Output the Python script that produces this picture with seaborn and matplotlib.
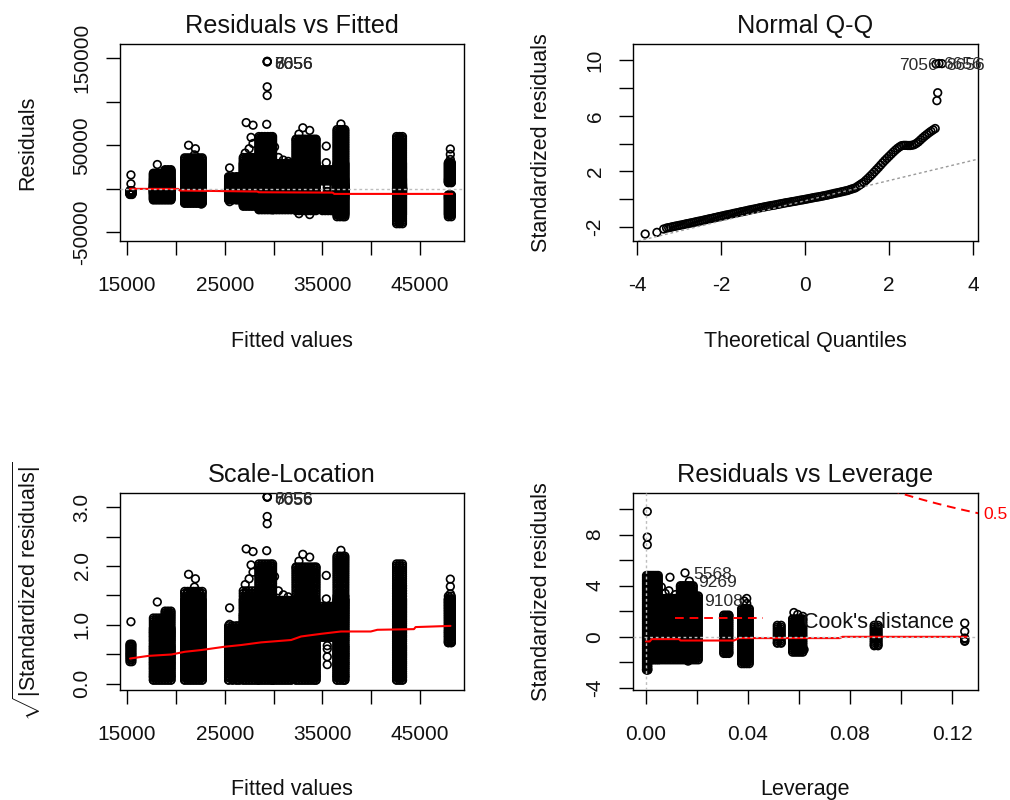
import numpy as np
import pandas as pd
import matplotlib
matplotlib.use("Agg")
import matplotlib.pyplot as plt
import seaborn as sns

sns.set_theme(style="white")
plt.rcParams["font.family"] = ["Liberation Sans", "DejaVu Sans"]
plt.rcParams["mathtext.fontset"] = "custom"
plt.rcParams["mathtext.rm"] = "Liberation Sans"
plt.rcParams["mathtext.it"] = "Liberation Sans:italic"
plt.rcParams["mathtext.bf"] = "Liberation Sans:bold"

# ------------------------------------------------------------------ data
# residual levels observed inside the dense fitted-value columns
resid_levels = [-40000, -38000, -36000, -34000, -32000, -30000, -29000, -28000,
                -27000, -26000, -25000, -24000, -23000, -22000, -21000, -20000,
                -19000, -18000, -17000, -16000, -15000, -14000, -13000, -12000,
                -11200, -10500, -9700, -9000, -8200, -7500, -6700, -6000, -5500,
                -5000, -4500, -4000, -3600, -3200, -2800, -2400, -2000, -1700,
                -1400, -1100, -850, -600, -400, -250, -150, -50,
                50, 150, 250, 400, 600, 850, 1100, 1400, 1700, 2000, 2400, 2800,
                3200, 3600, 4000, 4500, 5000, 5500, 6000, 6700, 7500, 8200, 9000,
                9700, 10500, 11200, 12000, 13000, 14000, 15000, 16000, 17000,
                18000, 19000, 20000, 21000, 22000, 23000, 24000, 25000, 26000,
                27000, 28000, 29000, 30000, 32000, 34000, 36000, 38000, 40000,
                42000, 44000, 46000, 48000, 50000, 52000, 54000, 56000, 58000,
                60000, 62000, 64000, 66000, 68000]

# fitted-value columns (x positions) with lowest / highest residual
fit_group_x = [
    [15300, 15500],
    [17700, 18000, 18300, 18600],
    [18900, 19200, 19500],
    [20900, 21200, 21500, 21800, 22100, 22400, 22700],
    [25400, 25800, 26200, 26500],
    [26900, 27200, 27500, 27800, 28100, 28400],
    [28500, 28800, 29100, 29400, 29700, 29900],
    [30000, 30300, 30600, 30900, 31200, 31500, 31800],
    [32300, 32600, 32900, 33200, 33500, 33800, 34100, 34350],
    [35000, 35300, 35600, 35900],
    [35000, 35300, 35600, 35900],
    [36500, 36800, 37100, 37300],
    [42600, 42900, 43200],
    [47900, 48200],
    [47900, 48200],
]
fit_group_lo = [-6500, -12800, -12800, -16600, -12800, -20000, -24000, -24000,
                -25000, -25000, 9000, -32000, -40000, 7000, -32000]
fit_group_hi = [-2000, 18000, 22000, 35600, 14000, 36000, 60000, 29000,
                57000, -9000, 22000, 68000, 60000, 30000, -7000]

# isolated points in Residuals vs Fitted
fit_extra_x = [15400, 15400, 18100, 21300, 22000, 21900, 22600, 25500, 25500,
               27200, 27900, 27700, 29350, 29350, 29300, 30100, 32600, 33000,
               33700, 32600, 33700, 35400, 35400, 35500, 35500, 35500, 35500,
               36900, 48100, 48100, 48100, 27100, 27500, 27900, 30500, 31000,
               31500]
fit_extra_r = [5800, 16000, 27900, 50000, 46000, 39000, -17500, 24000, -14700,
               76000, 73000, 59000, 117000, 107000, 74000, 48000, 62800, 70000,
               67000, -28500, -29500, 49000, 30000, -6000, -3000, 1500, 5000,
               74400, 45700, 39500, 33700, 41000, 46000, 52000, 36000, 33000,
               31500]

# three most extreme observations
id_labels = ["7056", "6656", "8656"]
id_fitted = [29350, 29350, 29350]
id_resid = [145500, 146300, 146000]
sigma_hat = 14500

# smoother lines
rvf_smooth_x = [15300, 20240, 20400, 28400, 28460, 36050, 36220, 48300]
rvf_smooth_y = [0, -100, -1900, -3100, -3900, -4300, -5800, -5800]
sl_smooth_x = [15306, 17176, 19556, 20916, 22616, 24996, 26696, 28736, 31796,
               32816, 34856, 36896, 39956, 40636, 44376, 44546, 48116]
sl_smooth_y = [0.425, 0.47, 0.494, 0.54, 0.57, 0.626, 0.655, 0.70, 0.74,
               0.80, 0.845, 0.885, 0.885, 0.914, 0.925, 0.96, 0.98]

# Normal Q-Q
qq_theoretical = [-3.81, -3.53, -3.37, -3.30,
    -3.25, -3.2, -3.15, -3.1, -3.05, -3.0, -2.95, -2.9, -2.85, -2.8, -2.75, -2.7,
    -2.65, -2.6, -2.55, -2.5, -2.45, -2.4, -2.35, -2.3, -2.25, -2.2, -2.15, -2.1,
    -2.05, -2.0, -1.95, -1.9, -1.85, -1.8, -1.75, -1.7, -1.65, -1.6, -1.55, -1.5,
    -1.45, -1.4, -1.35, -1.3, -1.25, -1.2, -1.15, -1.1, -1.05, -1.0, -0.95, -0.9,
    -0.85, -0.8, -0.75, -0.7, -0.65, -0.6, -0.55, -0.5, -0.45, -0.4, -0.35, -0.3,
    -0.25, -0.2, -0.15, -0.1, -0.05, 0.0, 0.05, 0.1, 0.15, 0.2, 0.25, 0.3, 0.35,
    0.4, 0.45, 0.5, 0.55, 0.6, 0.65, 0.7, 0.75, 0.8, 0.85, 0.9, 0.95, 1.0, 1.05,
    1.1, 1.15, 1.2, 1.25, 1.3, 1.35, 1.4, 1.45, 1.5, 1.55, 1.6, 1.65, 1.7, 1.75,
    1.8, 1.85, 1.9, 1.95, 2.0, 2.05, 2.1, 2.15, 2.2, 2.25, 2.3, 2.35, 2.4, 2.45,
    2.5, 2.55, 2.6, 2.65, 2.7, 2.75, 2.8, 2.85, 2.9, 2.95, 3.0, 3.05, 3.1,
    3.14, 3.16]
qq_sample = [-2.50, -2.38, -2.14, -2.07,
    -2.04, -2.01, -1.97, -1.94, -1.91, -1.88, -1.85, -1.82, -1.78, -1.75, -1.72,
    -1.69, -1.66, -1.62, -1.59, -1.56, -1.53, -1.49, -1.46, -1.42, -1.39, -1.36,
    -1.32, -1.29, -1.25, -1.22, -1.19, -1.15, -1.12, -1.09, -1.06, -1.02, -0.99,
    -0.96, -0.92, -0.89, -0.86, -0.83, -0.79, -0.76, -0.73, -0.70, -0.67, -0.63,
    -0.60, -0.57, -0.54, -0.51, -0.48, -0.45, -0.43, -0.40, -0.37, -0.34, -0.31,
    -0.28, -0.25, -0.23, -0.20, -0.17, -0.15, -0.12, -0.09, -0.06, -0.04, -0.01,
    0.02, 0.05, 0.08, 0.11, 0.14, 0.16, 0.19, 0.22, 0.25, 0.28, 0.31, 0.35, 0.38,
    0.42, 0.45, 0.48, 0.52, 0.55, 0.59, 0.62, 0.67, 0.72, 0.77, 0.82, 0.92, 1.02,
    1.12, 1.22, 1.36, 1.50, 1.65, 1.80, 1.96, 2.12, 2.28, 2.45, 2.62, 2.78, 2.93,
    3.08, 3.23, 3.38, 3.52, 3.65, 3.76, 3.85, 3.87, 3.87, 3.86, 3.86, 3.88, 3.92,
    4.01, 4.12, 4.26, 4.40, 4.53, 4.65, 4.77, 4.88, 4.98, 5.08,
    7.08, 7.65]
qq_id_theoretical = [3.12, 3.19, 3.26]
qq_id_sample = [9.72, 9.75, 9.74]
qq_id_labels = ["7056", "6656", "8656"]
qq_line_intercept = -0.11
qq_line_slope = 0.726

# Residuals vs Leverage
lev_std_levels = [-2.7, -2.55, -2.4, -2.25, -2.1, -1.95, -1.8, -1.65, -1.5,
                  -1.35, -1.2, -1.05, -0.9, -0.75, -0.6, -0.45, -0.3, -0.15,
                  0.0, 0.15, 0.3, 0.45, 0.6, 0.75, 0.9, 1.05, 1.2, 1.35, 1.5,
                  1.65, 1.8, 1.95, 2.1, 2.25, 2.4, 2.55, 2.7, 2.85, 3.0, 3.15,
                  3.3, 3.45, 3.6, 3.75, 3.9, 4.05, 4.2, 4.35, 4.5, 4.65, 4.8]
lev_group_x = [
    [0.0002, 0.0007],
    [0.0013, 0.0020, 0.0027, 0.0034, 0.0041, 0.0048],
    [0.0055, 0.0065, 0.0075, 0.0085, 0.0095, 0.0105, 0.0115, 0.0125],
    [0.0135, 0.0145, 0.0155, 0.0165, 0.0175, 0.0185],
    [0.0195, 0.0205],
    [0.0305, 0.0315, 0.0325],
    [0.0375, 0.0385, 0.0395, 0.0405],
    [0.0515, 0.0530],
    [0.0575, 0.0585, 0.0595, 0.0605, 0.0615],
    [0.0895, 0.0910],
    [0.1250],
]
lev_group_lo = [-2.6, -1.8, -1.8, -1.8, -1.8, -1.3, -2.1, -0.5, -1.2, -0.7, -0.35]
lev_group_hi = [4.8, 4.8, 3.0, 4.0, 3.2, 1.7, 2.2, 0.9, 1.4, 0.9, -0.1]
lev_extra_x = [0.0005, 0.0005, 0.0005, 0.0060, 0.0075, 0.0094, 0.0090, 0.0115,
               0.0165, 0.0395, 0.0395, 0.0385, 0.0580, 0.0595, 0.0615, 0.0620,
               0.1250, 0.1250]
lev_extra_y = [9.8, 7.8, 7.2, 3.9, 3.4, 4.66, 3.6, 3.3, -1.9, 2.6, 3.0, 2.8,
               1.9, 1.75, 1.6, -1.0, 1.07, 0.42]
lev_id_labels = ["5568", "9269", "9108"]
lev_id_x = [0.0153, 0.0170, 0.0197]
lev_id_y = [5.0, 4.35, 2.9]
lev_smooth_x = [0.0, 0.0015, 0.0022, 0.013, 0.0135, 0.0345, 0.0365, 0.076, 0.077, 0.1258]
lev_smooth_y = [-0.36, -0.36, -0.18, -0.18, -0.29, -0.29, -0.10, -0.10, 0.0, 0.0]
cook_level = 0.5
n_params = 28

# ------------------------------------------------------------------ tables
rows = []
for xs, lo, hi in zip(fit_group_x, fit_group_lo, fit_group_hi):
    levs = [lo] + [r for r in resid_levels if lo < r < hi] + [hi]
    for x in xs:
        for r in levs:
            rows.append((x, r))
rows += list(zip(fit_extra_x, fit_extra_r))
rows += list(zip(id_fitted, id_resid))
df_fit = pd.DataFrame(rows, columns=["fitted", "resid"])
df_fit["sqrt_std"] = np.sqrt(np.abs(df_fit["resid"]) / sigma_hat)

lrows = []
for xs, lo, hi in zip(lev_group_x, lev_group_lo, lev_group_hi):
    levs = [lo] + [v for v in lev_std_levels if lo < v < hi] + [hi]
    for x in xs:
        for v in levs:
            lrows.append((x, v))
lrows += list(zip(lev_extra_x, lev_extra_y))
lrows += list(zip(lev_id_x, lev_id_y))
df_lev = pd.DataFrame(lrows, columns=["leverage", "std"])

df_qq = pd.DataFrame({"theo": qq_theoretical + qq_id_theoretical,
                      "samp": qq_sample + qq_id_sample})

# ------------------------------------------------------------------ figure
W, H = 1010, 800
fig = plt.figure(figsize=(W / 100, H / 100), dpi=100)
fig.patch.set_facecolor("white")


def add_ax(l, r, t, b):
    return fig.add_axes([l / W, 1 - b / H, (r - l) / W, (b - t) / H])


ax1 = add_ax(120, 464, 44, 241)
ax2 = add_ax(633, 978, 44, 241)
ax3 = add_ax(120, 464, 493, 690)
ax4 = add_ax(633, 978, 493, 690)

PT = dict(marker="o", s=30, facecolors="none", edgecolor="black",
          linewidth=1.2, legend=False, zorder=2)
GREY = "#BEBEBE"
TXT = "#111111"
ID_TXT = "#2a2a2a"


def style(ax, xlim, ylim, xt, xtl, yt, ytl, title):
    ax.set_xlim(xlim)
    ax.set_ylim(ylim)
    ax.set_xticks(xt)
    ax.set_xticklabels(xtl)
    ax.set_yticks(yt)
    ax.set_yticklabels(ytl, rotation=90, va="center")
    ax.tick_params(axis="both", direction="out", length=10, width=1,
                   color="black", labelcolor=TXT, labelsize=15,
                   bottom=True, left=True, top=False, right=False)
    ax.tick_params(axis="x", pad=15)
    ax.tick_params(axis="y", pad=10.5)
    for sp in ax.spines.values():
        sp.set_color("black")
        sp.set_linewidth(1.0)
    ax.set_xlabel("")
    ax.set_ylabel("")
    ax.set_facecolor("white")
    ax.set_title(title, fontsize=18.2, pad=8, color=TXT)


fit_ticks = [15000, 20000, 25000, 30000, 35000, 40000, 45000]
fit_tick_labels = ["15000", "", "25000", "", "35000", "", "45000"]

# ---- panel 1: Residuals vs Fitted
sns.scatterplot(data=df_fit, x="fitted", y="resid", ax=ax1, **PT)
sns.lineplot(x=rvf_smooth_x, y=rvf_smooth_y, sort=False, estimator=None,
             color="red", linewidth=1.5, ax=ax1, zorder=3)
ax1.axhline(0, color=GREY, linestyle=(0, (2, 2)), linewidth=1.0, zorder=4)
for lab, x, y in zip(id_labels, id_fitted, id_resid):
    ax1.annotate(lab, (x, y), xytext=(5, -2), textcoords="offset points",
                 ha="left", va="center", fontsize=12.5, color=ID_TXT)
style(ax1, (14280, 49500), (-59800, 166100), fit_ticks, fit_tick_labels,
      [-50000, 0, 50000, 100000, 150000],
      ["-50000", "", "50000", "", "150000"], "Residuals vs Fitted")

# ---- panel 2: Normal Q-Q
sns.scatterplot(data=df_qq, x="theo", y="samp", ax=ax2, **PT)
ax2.axline((0, qq_line_intercept), slope=qq_line_slope, color="#9a9a9a",
           linestyle=(0, (2, 2)), linewidth=1.0, zorder=3)
for lab, x, y, side in zip(qq_id_labels, qq_id_theoretical, qq_id_sample,
                           ["right", "left", "left"]):
    dx = 1 if side == "right" else 3
    ax2.annotate(lab, (x, y), xytext=(dx, -1), textcoords="offset points",
                 ha=side, va="center", fontsize=12.5, color=ID_TXT)
style(ax2, (-4.1, 4.12), (-3.0, 11.15), [-4, -2, 0, 2, 4],
      ["-4", "-2", "0", "2", "4"], [-2, 0, 2, 4, 6, 8, 10],
      ["-2", "", "2", "", "6", "", "10"], "Normal Q-Q")

# ---- panel 3: Scale-Location
sns.scatterplot(data=df_fit, x="fitted", y="sqrt_std", ax=ax3, **PT)
sns.lineplot(x=sl_smooth_x, y=sl_smooth_y, sort=False, estimator=None,
             color="red", linewidth=1.5, ax=ax3, zorder=3)
for lab, x, y in zip(id_labels, id_fitted, id_resid):
    ax3.annotate(lab, (x, np.sqrt(abs(y) / sigma_hat)), xytext=(5, -2),
                 textcoords="offset points", ha="left", va="center",
                 fontsize=12.5, color=ID_TXT)
style(ax3, (14280, 49500), (-0.11, 3.24), fit_ticks, fit_tick_labels,
      [0, 0.5, 1.0, 1.5, 2.0, 2.5, 3.0],
      ["0.0", "", "1.0", "", "2.0", "", "3.0"], "Scale-Location")

# ---- panel 4: Residuals vs Leverage
sns.scatterplot(data=df_lev, x="leverage", y="std", ax=ax4, **PT)
sns.lineplot(x=lev_smooth_x, y=lev_smooth_y, sort=False, estimator=None,
             color="red", linewidth=1.5, ax=ax4, zorder=3)
ax4.axhline(0, color=GREY, linestyle=(0, (2, 2)), linewidth=1.0, zorder=4)
ax4.axvline(0, color=GREY, linestyle=(0, (2, 2)), linewidth=1.0, zorder=4)
hh = np.linspace(0.08, 0.135, 60)
cook_curve = np.sqrt(cook_level * n_params * (1 - hh) / hh)
sns.lineplot(x=hh, y=cook_curve, sort=False, estimator=None, color="red",
             linewidth=1.4, linestyle=(0, (4.5, 3)), ax=ax4, zorder=3)
ax4.text(0.1322, 9.55, "0.5", color="red", fontsize=12.5, ha="left",
         va="center", clip_on=False)
for lab, x, y in zip(lev_id_labels, lev_id_x, lev_id_y):
    ax4.annotate(lab, (x, y), xytext=(6, -1), textcoords="offset points",
                 ha="left", va="center", fontsize=12.5, color=ID_TXT)
# Cook's distance legend
sns.lineplot(x=[0.0114, 0.046], y=[1.46, 1.46], sort=False, estimator=None,
             color="red", linewidth=1.4, linestyle=(0, (4.5, 3)), ax=ax4,
             zorder=3)
ax4.text(0.0615, 1.15, "Cook's distance", fontsize=15.5, color=TXT,
         ha="left", va="center", zorder=5)
style(ax4, (-0.0051, 0.1302), (-4.16, 11.25),
      [0, 0.02, 0.04, 0.06, 0.08, 0.10, 0.12],
      ["0.00", "", "0.04", "", "0.08", "", "0.12"],
      [-4, -2, 0, 2, 4, 6, 8, 10], ["-4", "", "0", "", "4", "", "8", ""],
      "Residuals vs Leverage")


# ---- axis titles
def ftext(px, py, s, **kw):
    fig.text(px / W, 1 - py / H, s, color=TXT, **kw)


ftext(292, 347, "Fitted values", ha="center", va="baseline", fontsize=15.5)
ftext(805.5, 347, "Theoretical Quantiles", ha="center", va="baseline", fontsize=15.5)
ftext(292, 795, "Fitted values", ha="center", va="baseline", fontsize=15.5)
ftext(805.5, 795, "Leverage", ha="center", va="baseline", fontsize=15.5)
rot = dict(rotation=90, rotation_mode="anchor", ha="center", va="baseline",
           fontsize=15.5)
ftext(33, 142.5, "Residuals", **rot)
ftext(547, 142.5, "Standardized residuals", **rot)
ftext(547, 591.5, "Standardized residuals", **rot)
ftext(36, 591.5, r"$\sqrt{|\mathrm{Standardized\ residuals}|}$", **rot)

fig.savefig("out.png", dpi=100, facecolor="white")
